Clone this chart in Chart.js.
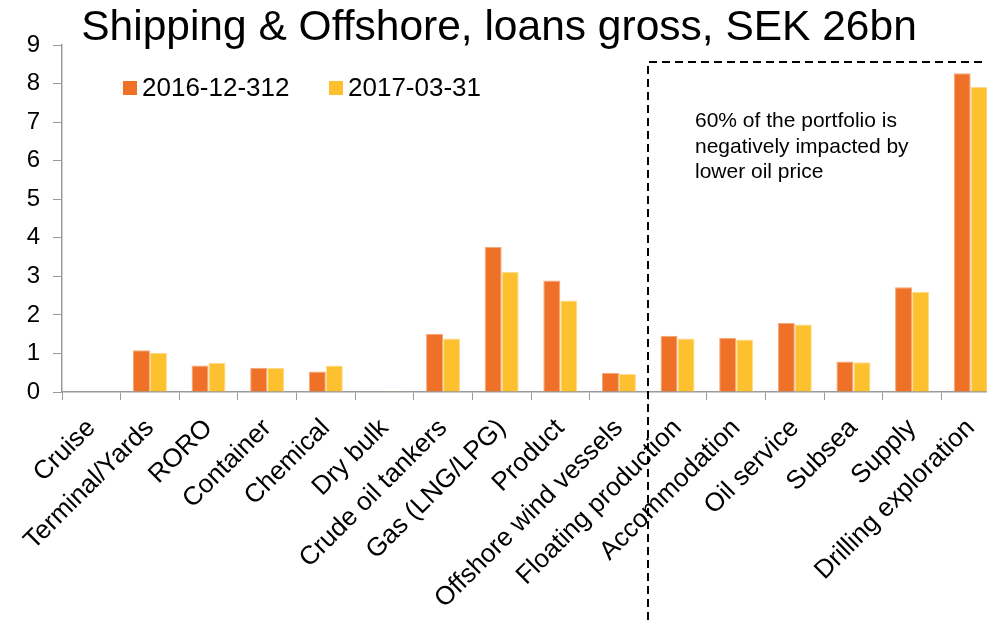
<!DOCTYPE html>
<html>
<head>
<meta charset="utf-8">
<title>Shipping & Offshore, loans gross</title>
<script src="https://cdn.jsdelivr.net/npm/chart.js@4/dist/chart.umd.min.js"></script>
<style>
  html, body { margin: 0; padding: 0; background: #fff; overflow: hidden; }
  #wrap { width: 1000px; height: 620px; position: relative; }
</style>
</head>
<body>
<div id="wrap"><canvas id="loans"></canvas></div>
<script>
// Loans gross per segment, SEK bn
const segments = [
  'Cruise', 'Terminal/Yards', 'RORO', 'Container', 'Chemical', 'Dry bulk',
  'Crude oil tankers', 'Gas (LNG/LPG)', 'Product', 'Offshore wind vessels',
  'Floating production', 'Accommodation', 'Oil service', 'Subsea', 'Supply',
  'Drilling exploration'
];
const dec2016 = [0, 1.08, 0.69, 0.63, 0.53, 0.02, 1.51, 3.76, 2.89, 0.49, 1.46, 1.40, 1.79, 0.79, 2.72, 8.27];
const mar2017 = [0, 1.02, 0.76, 0.62, 0.69, 0.02, 1.39, 3.11, 2.37, 0.47, 1.39, 1.36, 1.75, 0.77, 2.60, 7.91];
const seriesNames = ['2016-12-312', '2017-03-31'];
const yMax = 9;

const titleText = 'Shipping & Offshore, loans gross, SEK 26bn';
const noteLines = ['60% of the portfolio is', 'negatively impacted by', 'lower oil price'];
// oil-exposed segments start at this index; box top sits at this value
const oilStart = 10;
const boxTop = 8.55;

const ORANGE = '#EE7127';
const YELLOW = '#FDC12F';
const FONT = '"Liberation Sans", Arial, sans-serif';

// title, legend, dashed box and note
const overlay = {
  id: 'overlay',
  afterDraw(chart) {
    const { ctx, chartArea: ca, scales: { x, y } } = chart;
    ctx.save();

    ctx.fillStyle = '#000';
    ctx.font = `42.5px ${FONT}`;
    ctx.textAlign = 'center';
    ctx.textBaseline = 'alphabetic';
    ctx.fillText(titleText, 499, 40);

    // legend
    ctx.font = `26px ${FONT}`;
    ctx.textAlign = 'left';
    let lx = ca.left + 61;
    [ORANGE, YELLOW].forEach((c, i) => {
      ctx.fillStyle = c;
      ctx.fillRect(lx, 81, 14, 14);
      ctx.fillStyle = '#000';
      ctx.fillText(seriesNames[i], lx + 19, 96);
      lx += 206;
    });

    // dashed box around oil segments
    const bx = Math.round((x.getPixelForValue(oilStart - 1) + x.getPixelForValue(oilStart)) / 2);
    const by = Math.round(y.getPixelForValue(boxTop));
    ctx.strokeStyle = '#000';
    ctx.lineWidth = 2;
    ctx.setLineDash([8, 5]);
    ctx.beginPath();
    ctx.moveTo(bx, chart.height);
    ctx.lineTo(bx, by);
    ctx.lineTo(chart.width, by);
    ctx.stroke();
    ctx.setLineDash([]);

    ctx.font = `21px ${FONT}`;
    ctx.fillStyle = '#000';
    noteLines.forEach((t, i) => ctx.fillText(t, bx + 47, 127 + i * 25.5));

    ctx.restore();
  }
};

new Chart(document.getElementById('loans'), {
  type: 'bar',
  data: {
    labels: segments,
    datasets: [
      { label: seriesNames[0], data: dec2016, backgroundColor: ORANGE,
        borderColor: '#F5A877', borderWidth: { top: 1, left: 1, right: 1, bottom: 0 } },
      { label: seriesNames[1], data: mar2017, backgroundColor: YELLOW,
        borderColor: '#FEDB8C', borderWidth: { top: 1, left: 1, right: 1, bottom: 0 } }
    ]
  },
  options: {
    responsive: true,
    maintainAspectRatio: false,
    animation: false,
    categoryPercentage: 0.58,
    barPercentage: 1.0,
    layout: { padding: { top: 45, right: 0, bottom: 0, left: 0 } },
    plugins: {
      legend: { display: false },
      title: { display: false },
      tooltip: { enabled: false }
    },
    scales: {
      x: {
        grid: { offset: true, drawOnChartArea: false, drawTicks: true, tickLength: 8, color: '#9a9a9a' },
        border: { color: '#9a9a9a', width: 1.5 },
        ticks: {
          color: '#000', font: { family: FONT, size: 26 },
          minRotation: 45, maxRotation: 45, autoSkip: false, padding: 13
        },
        // keep the plot running to the right edge
        afterFit(s) { s.height = 228; s.paddingLeft = 0; s.paddingRight = 0; }
      },
      y: {
        min: 0, max: yMax,
        grid: { drawOnChartArea: false, drawTicks: true, tickLength: 9, color: '#9a9a9a' },
        border: { color: '#9a9a9a', width: 1.5 },
        ticks: { stepSize: 1, color: '#000', font: { family: FONT, size: 24 }, padding: 13 },
        afterFit(s) { s.width = 62; }
      }
    }
  },
  plugins: [overlay]
});
</script>
</body>
</html>
